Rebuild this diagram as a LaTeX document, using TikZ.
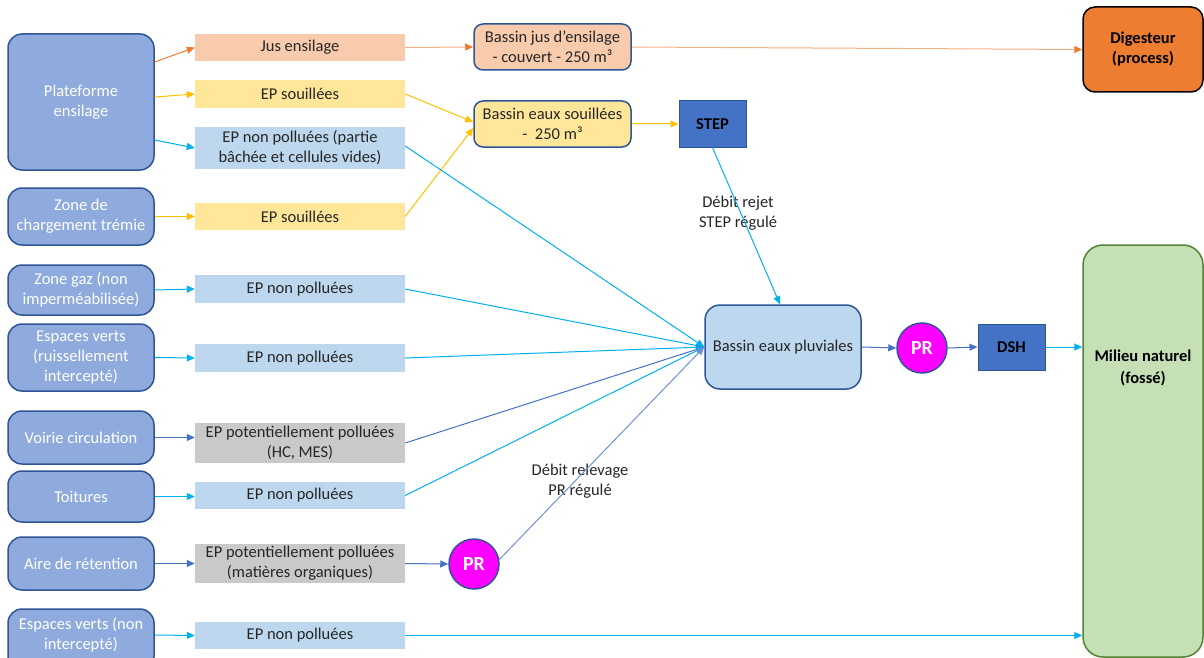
\documentclass[tikz,border=0pt]{standalone}
\usepackage{fontspec}
\setmainfont{Carlito}
\usetikzlibrary{arrows.meta,calc}
\definecolor{lfill}{HTML}{8FAADC}
\definecolor{ldraw}{HTML}{2F5597}
\definecolor{jusfill}{HTML}{F8CBAD}
\definecolor{soufill}{HTML}{FFE699}
\definecolor{npfill}{HTML}{BDD7EE}
\definecolor{grayfill}{HTML}{C9C9C9}
\definecolor{stepfill}{HTML}{4472C4}
\definecolor{digfill}{HTML}{ED7D31}
\definecolor{milfill}{HTML}{C5E0B4}
\definecolor{mildraw}{HTML}{548235}
\definecolor{prfill}{HTML}{FF00FF}
\definecolor{corange}{HTML}{ED7D31}
\definecolor{corlight}{HTML}{F4B183}
\definecolor{cgold}{HTML}{FFC000}
\definecolor{ccyan}{HTML}{00B0F0}
\definecolor{cblue}{HTML}{4472C4}
\definecolor{cblue2}{HTML}{6F8FD6}
\definecolor{txt}{HTML}{262626}
\begin{document}
\begin{tikzpicture}[x=1pt,y=-1pt,font=\fontsize{16.5}{20}\selectfont,
  src/.style={draw=ldraw,line width=1.5pt,fill=lfill,rounded corners=14pt,text=white,
    minimum width=146pt,align=center,inner sep=0pt},
  mid/.style={minimum width=210pt,inner sep=0pt,align=center,text=txt},
  bassin/.style={draw=ldraw,line width=1.5pt,rounded corners=9pt,minimum width=157pt,
    minimum height=46pt,align=center,text=txt,inner sep=0pt},
  sq/.style={draw=ldraw,line width=1pt,fill=stepfill,minimum width=67pt,minimum height=46pt,
    font=\fontsize{16.5}{20}\selectfont\bfseries,text=black,inner sep=0pt},
  pr/.style={circle,draw=ldraw,line width=1.5pt,fill=prfill,minimum size=50pt,inner sep=0pt,
    text=white,font=\fontsize{20}{22}\selectfont\bfseries},
  arr/.style={-{Triangle[length=8pt,width=7pt]},line width=1pt},
  lab/.style={align=center,text=txt,inner sep=0pt}]
\useasboundingbox (0,0) rectangle (1204,658);
\clip (0,0) rectangle (1204,658);

% left source boxes
\node[src,minimum height=136pt] (plat) at (81,102) {Plateforme\\ensilage};
\node[src,minimum height=57pt] (zct) at (81,216.5) {Zone de\\chargement trémie};
\node[src,minimum height=50pt] (zg) at (81,290) {Zone gaz (non\\imperméabilisée)};
\node[src,minimum height=67pt] (ev1) at (81,357.5) {Espaces verts\\(ruissellement\\intercepté)};
\node[src,minimum height=53pt] (vc) at (81,437.5) {Voirie circulation};
\node[src,minimum height=51pt] (toit) at (81,496.5) {Toitures};
\node[src,minimum height=53pt] (aire) at (81,563.5) {Aire de rétention};
\node[src,minimum height=62pt] (ev2) at (81,640) {};
\node[text=white,align=center,inner sep=0pt] (ev2t) at (81,635) {Espaces verts (non\\intercepté)};

% middle boxes
\node[mid,fill=jusfill,minimum height=27pt] (jus) at (300,47.5) {Jus ensilage};
\node[mid,fill=soufill,minimum height=28pt] (eps1) at (300,94) {EP souillées};
\node[mid,fill=npfill,minimum height=42pt] (epnp1) at (300,148) {EP non polluées (partie\\bâchée et cellules vides)};
\node[mid,fill=soufill,minimum height=27pt] (eps2) at (300,216.5) {EP souillées};
\node[mid,fill=npfill,minimum height=28pt] (epnp2) at (300,289) {EP non polluées};
\node[mid,fill=npfill,minimum height=28pt] (epnp3) at (300,358) {EP non polluées};
\node[mid,fill=grayfill,minimum height=40pt] (epp1) at (300,443) {EP potentiellement polluées\\(HC, MES)};
\node[mid,fill=npfill,minimum height=27pt] (epnp4) at (300,495.5) {EP non polluées};
\node[mid,fill=grayfill,minimum height=39pt] (epp2) at (300,563.5) {EP potentiellement polluées\\(matières organiques)};
\node[mid,fill=npfill,minimum height=27pt] (epnp5) at (300,635.5) {EP non polluées};

% basins and treatment
\node[bassin,fill=jusfill] (bj) at (552.5,47) {Bassin jus d’ensilage\\- couvert - 250 m³};
\node[bassin,fill=soufill] (bes) at (552.5,124) {Bassin eaux souillées\\-\ \ 250 m³};
\node[sq] (step) at (712.5,124) {STEP};
\node[draw=black,line width=1.5pt,fill=digfill,rounded corners=12pt,minimum width=120pt,
  minimum height=85pt,align=center,inner sep=0pt,font=\fontsize{16.5}{20}\selectfont\bfseries] (dig) at (1143,49.5) {Digesteur\\(process)};
\node[draw=ldraw,line width=1.5pt,fill=npfill,rounded corners=15pt,minimum width=156pt,
  minimum height=84pt,text=txt,inner sep=0pt] (bp) at (783,347) {Bassin eaux pluviales};
\node[pr] (prm) at (922,348) {PR};
\node[sq] (dsh) at (1011.5,347) {DSH};
\node[draw=mildraw,line width=1.5pt,fill=milfill,rounded corners=20pt,minimum width=120pt,
  minimum height=412pt,inner sep=0pt] (mil) at (1143,451) {};
\node[align=center,inner sep=0pt,font=\fontsize{16.5}{22}\selectfont\bfseries] (milt) at (1143,368) {Milieu naturel\\(fossé)};
\node[pr] (prl) at (474,564) {PR};

% labels
\node[lab] (l1) at (738,213) {Débit rejet\\STEP régulé};
\node[lab] (l2) at (580,481) {Débit relevage\\PR régulé};

% connectors: sources to middle
\draw[arr,corange] ([yshift=40pt]plat.east) -- (jus.west);
\draw[arr,cgold] ([yshift=5pt]plat.east) -- (eps1.west);
\draw[arr,ccyan] ([yshift=-38pt]plat.east) -- (epnp1.west);
\draw[arr,cgold] (zct.east) -- (eps2.west);
\draw[arr,ccyan] (zg.east) -- (epnp2.west);
\draw[arr,ccyan] (ev1.east) -- (epnp3.west);
\draw[arr,cblue] (vc.east) -- (vc.east -| epp1.west);
\draw[arr,ccyan] (toit.east) -- (toit.east -| epnp4.west);
\draw[arr,cblue] (aire.east) -- (aire.east -| epp2.west);
\draw[arr,ccyan] (ev2t.east -| ev2.east) -- (epnp5.west);

% orange chain
\draw[-{Triangle[length=8pt,width=7pt,color=corange]},line width=1pt,corlight] (jus.east) -- (bj.west);
\draw[-{Triangle[length=8pt,width=7pt,color=corange]},line width=1pt,corlight] (bj.east) -- (dig.west);

% gold chain
\draw[arr,cgold] (eps1.east) -- ([yshift=2pt]bes.west);
\draw[arr,cgold] (eps2.east) -- ([yshift=-4pt]bes.west);
\draw[arr,cgold] (bes.east) -- (step.west);

% to bassin eaux pluviales
\draw[arr,ccyan] (step.south) -- ([xshift=-3pt]bp.north);
\draw[arr,ccyan] ([yshift=2pt]epnp1.east) -- (bp.west);
\draw[arr,ccyan] (epnp2.east) -- (bp.west);
\draw[arr,ccyan] (epnp3.east) -- (bp.west);
\draw[arr,cblue] (epp1.east) -- (bp.west);
\draw[arr,ccyan] (epnp4.east) -- (bp.west);
\draw[arr,cblue] (epp2.east) -- (prl.west);
\draw[arr,cblue2] (prl.10) -- (bp.west);

% outlet
\draw[arr,cblue] (bp.east) -- (prm.west);
\draw[arr,cblue] (prm.east) -- (dsh.west);
\draw[arr,ccyan] (dsh.east) -- (mil.west |- dsh.east);
\draw[arr,ccyan] (epnp5.east) -- (mil.west |- epnp5.east);
\end{tikzpicture}
\end{document}
